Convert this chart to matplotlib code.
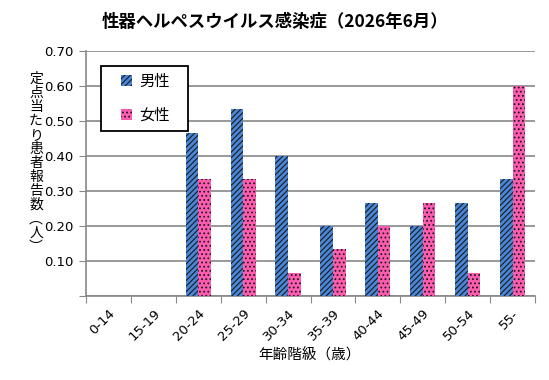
import matplotlib
matplotlib.use("Agg")
import matplotlib.pyplot as plt
from matplotlib.patches import Rectangle
import numpy as np

plt.rcParams['font.family'] = ['Noto Sans CJK JP', 'DejaVu Sans']
plt.rcParams['hatch.linewidth'] = 0.8

categories = ["0-14", "15-19", "20-24", "25-29", "30-34", "35-39", "40-44", "45-49", "50-54", "55-"]
male = [0, 0, 0.467, 0.533, 0.400, 0.200, 0.267, 0.200, 0.267, 0.333]
female = [0, 0, 0.333, 0.333, 0.067, 0.133, 0.200, 0.267, 0.067, 0.600]
yticks = [0.10, 0.20, 0.30, 0.40, 0.50, 0.60, 0.70]

fig = plt.figure(figsize=(5.49, 3.80), dpi=100)
ax = fig.add_axes([86/549, 1-296/380, 449/549, 245/380])

x = np.arange(len(categories))
w = 0.28
ax.bar(x - w/2, male, w, color='#4a86d8', edgecolor='#1a1a1a', linewidth=0, hatch='//////', label='男性', zorder=3)
ax.bar(x + w/2, female, w, color='#ff5cb0', edgecolor='#1a1a1a', linewidth=0, hatch='....', label='女性', zorder=3)

ax.set_xlim(-0.5, len(categories) - 0.5)
ax.set_ylim(0, 0.70)
ax.set_yticks([0] + yticks)
ax.set_yticklabels([''] + [f"{v:.2f}" for v in yticks], fontsize=9.5, family='DejaVu Sans')
ax.yaxis.grid(True, color='#888888', linewidth=1.2, zorder=0)
ax.set_axisbelow(True)

ax.set_xticks(np.arange(len(categories) + 1) - 0.5)
ax.set_xticklabels([])
ax.set_xticks(x, minor=True)
ax.set_xticklabels(categories, minor=True, rotation=45, ha='right', va='top', fontsize=9.5,
                   family='DejaVu Sans', rotation_mode='anchor')
ax.tick_params(axis='x', which='minor', length=0, pad=8)
ax.tick_params(axis='x', which='major', length=5, color='#888888')
ax.tick_params(axis='y', length=5, color='#888888', pad=4)

for s in ['top', 'right']:
    ax.spines[s].set_visible(False)
for s in ['left', 'bottom']:
    ax.spines[s].set_color('#888888')
    ax.spines[s].set_linewidth(1.2)

fig.text(0.5, 1 - 22/380, '性器ヘルペスウイルス感染症（2026年6月）', ha='center', va='center',
         fontsize=12.5, fontweight='bold')

ylab = '定点当たり患者報告数︵人︶'
fig.text(36/549, 1 - 163/380, '\n'.join(ylab), ha='center', va='center', fontsize=10,
         linespacing=1.0)

fig.text(310/549, 1 - 355/380, '年齢階級（歳）', ha='center', va='center', fontsize=10.5)

# legend box drawn in figure pixels
box = Rectangle((101/549, 1 - 131/380), 87/549, 65/380, transform=fig.transFigure,
                facecolor='white', edgecolor='black', linewidth=1.3, zorder=4, clip_on=False)
ax.add_artist(box)
leg = ax.legend(loc='center left', bbox_to_anchor=((121-86)/449, (296-98.5)/245), fontsize=11,
                frameon=False, handlelength=0.75, handleheight=0.75, labelspacing=1.1,
                borderpad=0, handletextpad=0.45, borderaxespad=0)
leg.set_zorder(5)

fig.savefig('out.png', dpi=100)
